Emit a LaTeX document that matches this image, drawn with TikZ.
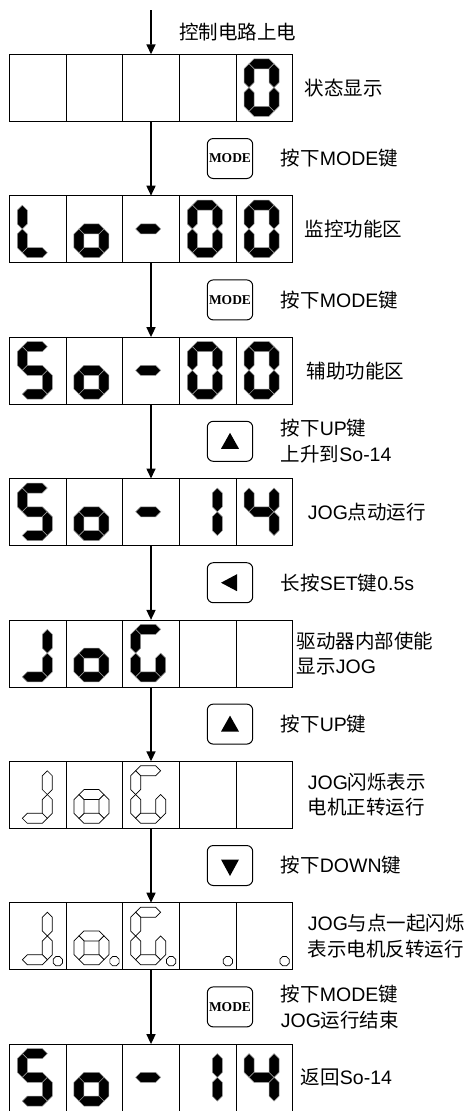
\documentclass[tikz,border=0pt]{standalone}
\usepackage{fontspec}
\setmainfont{Liberation Sans}
\newfontfamily\cjk{Noto Sans CJK SC}
\newfontfamily\keyfont{Liberation Serif}
\usepackage{tikz}
\usetikzlibrary{shapes.geometric,arrows.meta,positioning,calc}
\definecolor{seggap}{HTML}{9A9A9A}

\newcommand\zh[1]{{\cjk #1}}
% segment lists (corner pairs) of the seven-segment glyphs
\def\segZero{A/B,B/D,D/F,E/F,C/E,A/C}
\def\segL{A/C,C/E,E/F}
\def\segO{C/D,D/F,E/F,C/E}
\def\segDash{C/D}
\def\segS{A/B,A/C,C/D,D/F,E/F}
\def\segOne{B/D,D/F}
\def\segFour{A/C,C/D,B/D,D/F}
\def\segJ{B/D,D/F,E/F}
\def\segG{A/B,A/C,C/E,E/F,D/F}
\newcommand\digit[3]{%
  \begin{scope}[shift={(#1.north west)},shift={(8,4.5)}]
    \coordinate (A) at (5,5);     \coordinate (B) at (30,5);
    \coordinate (C) at (5,28.75); \coordinate (D) at (30,28.75);
    \coordinate (E) at (5,52.5);  \coordinate (F) at (30,52.5);
    \foreach \p/\q in #3
      \path[#2] (\p) -- ($(\p)!7.07pt!45:(\q)$) -- ($(\q)!7.07pt!-45:(\p)$) -- (\q)
        -- ($(\q)!7.07pt!45:(\p)$) -- ($(\p)!7.07pt!-45:(\q)$) -- cycle;
  \end{scope}}

\begin{document}
\begin{tikzpicture}[x=1pt,y=-1pt,
  cell/.style={draw,line width=0.8pt,minimum width=56.68pt,minimum height=67pt,inner sep=0pt,outer sep=0pt},
  seg/.style={fill=black,draw=seggap,line width=0.5pt},
  segline/.style={fill=white,draw=black,line width=0.7pt},
  dp/.style={regular polygon,regular polygon sides=8,minimum size=10pt,draw,line width=0.7pt,inner sep=0pt},
  key/.style={draw,rounded corners=6pt,minimum width=45.4pt,minimum height=40pt,line width=1pt,inner sep=0pt},
  modekey/.style={key,font=\keyfont\bfseries\fontsize{13.5}{15}\selectfont},
  arr/.style={-{Triangle[length=10pt,width=9pt]},line width=1.6pt},
  lbl/.style={anchor=west,inner sep=0pt,align=left,font=\fontsize{19.5}{25.5}\selectfont}
]
\useasboundingbox (0,0) rectangle (472,1111);

% Display rows
\foreach \r in {1,...,8}
  \foreach \c in {1,...,5}
    \node[cell] (c\r\c) at ({37.65+56.68*(\c-1)},{87.8+141.4*(\r-1)}) {};

% Digits
\digit{c15}{seg}{\segZero}
\digit{c21}{seg}{\segL} \digit{c22}{seg}{\segO} \digit{c23}{seg}{\segDash}
\digit{c24}{seg}{\segZero} \digit{c25}{seg}{\segZero}
\digit{c31}{seg}{\segS} \digit{c32}{seg}{\segO} \digit{c33}{seg}{\segDash}
\digit{c34}{seg}{\segZero} \digit{c35}{seg}{\segZero}
\digit{c41}{seg}{\segS} \digit{c42}{seg}{\segO} \digit{c43}{seg}{\segDash}
\digit{c44}{seg}{\segOne} \digit{c45}{seg}{\segFour}
\digit{c51}{seg}{\segJ} \digit{c52}{seg}{\segO} \digit{c53}{seg}{\segG}
\digit{c61}{segline}{\segJ} \digit{c62}{segline}{\segO} \digit{c63}{segline}{\segG}
\digit{c71}{segline}{\segJ} \digit{c72}{segline}{\segO} \digit{c73}{segline}{\segG}
\digit{c81}{seg}{\segS} \digit{c82}{seg}{\segO} \digit{c83}{seg}{\segDash}
\digit{c84}{seg}{\segOne} \digit{c85}{seg}{\segFour}

% Decimal points
\foreach \c in {1,...,5}
  \node[dp] (p\c) at ([xshift=48.5pt,yshift=-58.5pt]c7\c.north west) {};

% Keys
\node[modekey] (k1) at (230,158.5) {MODE};
\node[modekey] (k2) at (230,299.9) {MODE};
\node[key]     (k3) at (230,441.3) {};
\node[key]     (k4) at (230,582.7) {};
\node[key]     (k5) at (230,724.1) {};
\node[key]     (k6) at (230,865.5) {};
\node[modekey] (k7) at (230,1006.9) {MODE};
\fill[shift={(k3)}] (0,-8.5) -- (9,7.5) -- (-9,7.5) -- cycle;
\fill[shift={(k4)}] (-9,0) -- (7,-8.5) -- (7,8.5) -- cycle;
\fill[shift={(k5)}] (0,-8.5) -- (9,7.5) -- (-9,7.5) -- cycle;
\fill[shift={(k6)}] (0,10.5) -- (9,-6) -- (-9,-6) -- cycle;

% Arrows
\coordinate (start) at (151,10);
\draw[arr] (start) -- (c13.north);
\foreach \i [evaluate=\i as \j using int(\i+1)] in {1,...,7}
  \draw[arr] (c\i3.south) -- (c\j3.north);

% Labels
\node[lbl] (t0) at (179,32.3) {\zh{控制电路上电}};
\node[lbl,right=12pt of c15] (s1) {\zh{状态显示}};
\node[lbl,right=12pt of c25] (s2) {\zh{监控功能区}};
\node[lbl,right=14pt of c35] (s3) {\zh{辅助功能区}};
\node[lbl,right=15pt of c45] (s4) {JOG\zh{点动运行}};
\node[lbl,right=4pt of c55]  (s5) {\zh{驱动器内部使能}\\\zh{显示}JOG};
\node[lbl,right=15pt of c65] (s6) {JOG\zh{闪烁表示}\\\zh{电机正转运行}};
\node[lbl,right=15pt of c75] (s7) {JOG\zh{与点一起闪烁}\\\zh{表示电机反转运行}};
\node[lbl,right=8pt of c85]  (s8) {\zh{返回}So-14};
\node[lbl,right=27.5pt of k1] (n1) {\zh{按下}MODE\zh{键}};
\node[lbl,right=27.5pt of k2] (n2) {\zh{按下}MODE\zh{键}};
\node[lbl,right=27.5pt of k3] (n3) {\zh{按下}UP\zh{键}\\\zh{上升到}So-14};
\node[lbl,right=27.5pt of k4] (n4) {\zh{长按}SET\zh{键}0.5s};
\node[lbl,right=27.5pt of k5] (n5) {\zh{按下}UP\zh{键}};
\node[lbl,right=27.5pt of k6] (n6) {\zh{按下}DOWN\zh{键}};
\node[lbl,right=27.5pt of k7] (n7) {\zh{按下}MODE\zh{键}\\JOG\zh{运行结束}};

\end{tikzpicture}
\end{document}
